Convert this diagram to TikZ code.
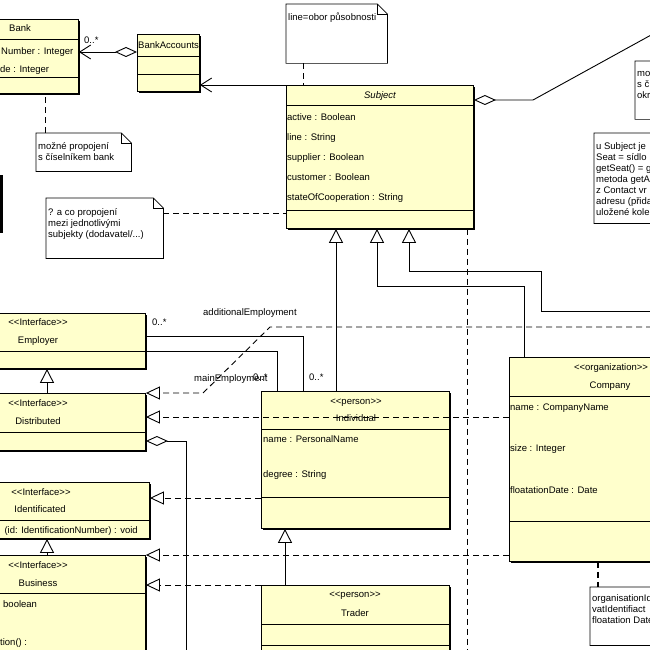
\documentclass[tikz,border=0pt]{standalone}
\usepackage{fontspec}
\setmainfont{Liberation Sans}
\usetikzlibrary{arrows.meta,calc,shadows}
\definecolor{umlyellow}{RGB}{255,255,204}
\newcommand\umlcls[5]{\node[cls, minimum width=#4pt, minimum height=#5pt] (#1) at (#2,#3) {};}
\newcommand\hsep[2]{\draw[sepline] ($(#1.north west)+(0,#2)$) -- ($(#1.north east)+(0,#2)$);}
\newcommand\umlnote[5]{\node[notebox, minimum width=#4pt, minimum height=#5pt] (#1) at (#2,#3) {};
  \draw[noteline, fill=white] (#1.north west) -- ($(#1.north east)+(-10,0)$) -- ($(#1.north east)+(0,10)$) -- (#1.south east) -- (#1.south west) -- cycle;
  \draw[noteline] ($(#1.north east)+(-10,0)$) -- ($(#1.north east)+(-10,10)$) -- ($(#1.north east)+(0,10)$);}
\newcommand\tx[5][]{\node[txt,#1] (#2) at (#3,#4) {#5};}
\newcommand\stl[1]{<{}<#1>{}>}
\begin{document}
\begin{tikzpicture}[x=1pt,y=-1pt,
  font=\fontsize{9.5}{11}\selectfont,
  cls/.style={draw, fill=umlyellow, rectangle, anchor=north west, inner sep=0pt, line width=0.9pt,
    general shadow={fill=black, shadow xshift=2pt, shadow yshift=-2pt}},
  notebox/.style={rectangle, anchor=north west, inner sep=0pt, draw=none},
  noteline/.style={line width=0.7pt},
  sepline/.style={line width=0.9pt},
  txt/.style={inner sep=0pt, anchor=base west},
  txtc/.style={inner sep=0pt, anchor=base},
  txte/.style={inner sep=0pt, anchor=base east},
  assoc/.style={line width=0.9pt},
  gen/.style={line width=0.9pt, -{Triangle[length=14pt, width=14pt, fill=white]}},
  real/.style={line width=0.9pt, dash pattern=on 6pt off 4pt, -{Triangle[length=14pt, width=13pt, fill=white]}},
  dep/.style={line width=0.9pt, dash pattern=on 6pt off 4pt},
  barb/.style={-{Straight Barb[length=11pt, width=14pt]}},
  diam/.style={{Diamond[length=22pt, width=10pt, fill=white]}-}
]
\useasboundingbox (0,0) rectangle (650,650);
\fill[white] (0,0) rectangle (650,650);
\clip (0,0) rectangle (650,650);

% ---------- classes ----------
\umlcls{bank}{-40}{19}{118}{74}
\hsep{bank}{20}\hsep{bank}{58}
\umlcls{bankacc}{137}{34}{62}{57}
\hsep{bankacc}{22}\hsep{bankacc}{40}
\umlcls{subject}{286}{85}{187}{143}
\hsep{subject}{20}\hsep{subject}{125}
\umlcls{employer}{-71}{313}{216}{55}
\hsep{employer}{38}
\umlcls{distributed}{-71}{393}{216}{57}
\hsep{distributed}{39}
\umlcls{individual}{261}{391}{188}{137}
\hsep{individual}{38}\hsep{individual}{106}
\umlcls{identificated}{-71}{482}{220}{56}
\hsep{identificated}{38}
\umlcls{business}{-71}{555}{216}{145}
\hsep{business}{38}
\umlcls{trader}{261}{585}{188}{115}
\hsep{trader}{39}\hsep{trader}{60}
\umlcls{company}{509}{357}{202}{204}
\hsep{company}{39}\hsep{company}{164}

% ---------- notes ----------
\umlnote{note1}{36}{133}{95}{38}
\umlnote{note2}{286}{4}{101}{59}
\umlnote{note3}{635}{61}{70}{58}
\umlnote{note4}{594}{133}{110}{90}
\umlnote{note5}{46}{198}{117}{60}
\umlnote{note6}{590}{587}{110}{58}

\fill (0,175) rectangle (3,233);

% ---------- texts ----------
\tx[txtc]{tbank}{20}{32}{Bank}
\tx{tbank1}{1}{55}{Number : Integer}
\tx{tbank2}{0}{73}{de : Integer}
\tx[txtc]{tsubj}{380}{99}{\itshape Subject}
\tx{ts1}{287}{120.5}{active : Boolean}
\tx{ts2}{287}{140.5}{line : String}
\tx{ts3}{287}{160.5}{supplier : Boolean}
\tx{ts4}{287}{180.5}{customer : Boolean}
\tx{ts5}{287}{200.5}{stateOfCooperation : String}
\tx{tba}{138}{49}{BankAccounts}
\tx{tn2}{288}{20.5}{line=obor působnosti}
\tx{tn1a}{38}{149.5}{možné propojení}
\tx{tn1b}{38}{160.5}{s číselníkem bank}
\tx{tn3a}{637}{76.5}{mo}
\tx{tn3b}{637}{87.5}{s č}
\tx{tn3c}{637}{98.5}{okr}
\tx{tn4a}{596}{149.5}{u Subject je}
\tx{tn4b}{596}{160.5}{Seat = sídlo}
\tx{tn4c}{596}{171.5}{getSeat() = g}
\tx{tn4d}{596}{182.5}{metoda getA}
\tx{tn4e}{596}{193.5}{z Contact vr}
\tx{tn4f}{596}{204.5}{adresu (přida}
\tx{tn4g}{596}{215.5}{uložené kole}
\tx{tn5a}{48}{215.5}{? a co propojení}
\tx{tn5b}{48}{226.5}{mezi jednotlivými}
\tx{tn5c}{48}{237.5}{subjekty (dodavatel/...)}
\tx{tn6a}{592}{601.5}{organisationId}
\tx{tn6b}{592}{612.5}{vatIdentifiact}
\tx{tn6c}{592}{623.5}{floatation Date}
\tx[txtc]{temp1}{38}{325.5}{\stl{Interface}}
\tx[txtc]{temp2}{38}{343.5}{Employer}
\tx[txtc]{tdis1}{38}{406}{\stl{Interface}}
\tx[txtc]{tdis2}{38}{424}{Distributed}
\tx[txtc]{tid1}{41}{495}{\stl{Interface}}
\tx[txtc]{tid2}{40}{512.5}{Identificated}
\tx[txte]{tid3}{138}{533.5}{(id: IdentificationNumber) : void}
\tx[txtc]{tbus1}{38}{568.5}{\stl{Interface}}
\tx[txtc]{tbus2}{38}{586}{Business}
\tx{tbus3}{3}{607.5}{boolean}
\tx{tbus4}{0}{645}{tion() :}
\tx[txtc]{tind1}{356}{404.5}{\stl{person}}
\tx[txtc]{tind2}{356}{421.5}{Individual}
\tx{tind3}{263}{442.5}{name : PersonalName}
\tx{tind4}{263}{477.5}{degree : String}
\tx[txtc]{ttr1}{355}{597.5}{\stl{person}}
\tx[txtc]{ttr2}{355}{616.5}{Trader}
\tx[txtc]{tco1}{611}{370.5}{\stl{organization}}
\tx[txtc]{tco2}{610}{388.5}{Company}
\tx{tco3}{510}{410.5}{name : CompanyName}
\tx{tco4}{510}{451.5}{size : Integer}
\tx{tco5}{510}{493.5}{floatationDate : Date}
\tx{lb1}{84}{44}{0..*}
\tx{lb2}{203}{315}{additionalEmployment}
\tx{lb3}{152}{325}{0..*}
\tx{lb4}{194}{381.5}{mainEmployment}
\tx{lb5}{253}{380}{0..*}
\tx{lb6}{309}{380.5}{0..*}

% ---------- connectors ----------
\coordinate (offA) at (662,29);
\coordinate (bendA) at (533,100);
\coordinate (offB) at (662,311);
\coordinate (offC) at (467,662);
\coordinate (offD) at (662,327);
\coordinate (bendD1) at (270,327);
\coordinate (bendD2) at (203,393);
\coordinate (offE) at (186,662);

\draw[assoc, {Diamond[length=22pt, width=10pt, fill=white]}-{Straight Barb[length=11pt, width=14pt]}]
  ($(bankacc.north west)+(0,18)$) -- ($(bank.north east)+(0,33)$);
\draw[assoc, barb] (subject.north west) -- ($(bankacc.north east)+(0,51)$);
\draw[dep] ($(note1.north west)+(9,0)$) -- ($(bank.south west)+(85,0)$);
\draw[dep] ($(note2.south west)+(17,0)$) -- ($(subject.north west)+(17,0)$);
\draw[dep] ($(note5.north east)+(0,15)$) -- ($(subject.north west)+(0,128)$);
\draw[assoc, diam] ($(subject.north east)+(0,15)$) -- (bendA) -- (offA);

\draw[gen] ($(individual.north west)+(75,0)$) -- ($(subject.south west)+(50,0)$);
\draw[gen] ($(company.north west)+(15,0)$) |- ($(subject.south west)+(91,58)$) -- ($(subject.south west)+(91,0)$);
\draw[gen] (offB) -| ($(subject.south west)+(255,43)$) -| ($(subject.south west)+(123,0)$);
\draw[dep] ($(subject.south west)+(181,0)$) -- (offC);

\draw[real] (offD) -- (bendD1) -- (bendD2) -- (distributed.north east);
\draw[assoc] ($(employer.north east)+(0,23)$) -| ($(individual.north west)+(42,0)$);
\draw[assoc] ($(employer.north east)+(0,38)$) -| ($(individual.north west)+(16,0)$);
\draw[real] ($(company.north west)+(0,60)$) -- ($(distributed.north east)+(0,24)$);
\draw[assoc, diam] ($(distributed.north east)+(0,48)$) -| (offE);
\draw[real] ($(individual.north west)+(0,107)$) -- ($(identificated.north east)+(0,16)$);
\draw[gen] ($(distributed.north west)+(118,0)$) -- ($(employer.south west)+(118,0)$);
\draw[gen] ($(business.north west)+(118,0)$) -- ($(identificated.south west)+(118,0)$);
\draw[real] ($(company.north west)+(0,198)$) -- (business.north east);
\draw[real] (trader.north west) -- ($(business.north east)+(0,30)$);
\draw[gen] ($(trader.north west)+(24,0)$) -- ($(individual.south west)+(24,0)$);
\draw[line width=2pt, dash pattern=on 6pt off 4pt] ($(company.south west)+(89,0)$) -- ($(note6.north west)+(8,0)$);
\end{tikzpicture}
\end{document}
